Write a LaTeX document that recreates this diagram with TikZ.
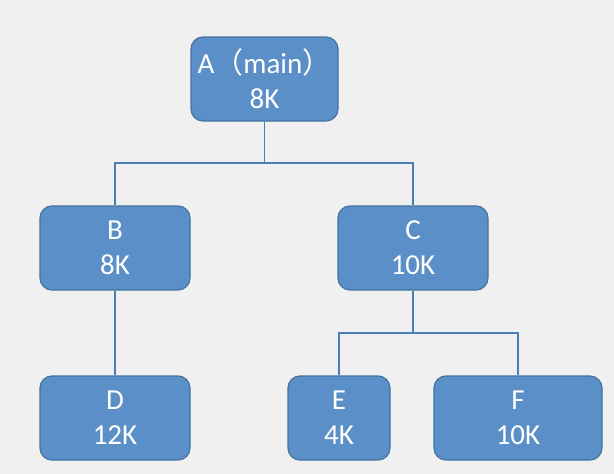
\documentclass[tikz,border=0pt]{standalone}
\usepackage{fontspec}
\setmainfont{Carlito}
\newfontfamily\cjk{Noto Sans CJK SC}
\usepackage{xcolor}
\definecolor{bgcol}{HTML}{F0F0F0}
\definecolor{boxfill}{HTML}{5B8FC7}
\definecolor{boxedge}{HTML}{45739F}
\definecolor{wirecol}{HTML}{4A7EBB}

\begin{document}
\begin{tikzpicture}[x=1pt,y=-1pt,
  blk/.style={draw=boxedge,fill=boxfill,rounded corners=12pt,line width=1.2pt,
    text=white,align=center,inner sep=0pt,minimum height=84pt,
    font=\fontsize{29}{35}\selectfont},
  wire/.style={draw=wirecol,line width=1.5pt}]
\fill[bgcol] (0,0) rectangle (614,474);
% the call tree
\node[blk,minimum width=147pt] (a) at (264.5,79) {A{\cjk（}main{\cjk）}\\8K};
\node[blk,minimum width=150pt] (b) at (115,248) {B\\8K};
\node[blk,minimum width=150pt] (c) at (413,248) {C\\10K};
\node[blk,minimum width=150pt] (d) at (115,418) {D\\12K};
\node[blk,minimum width=102pt] (e) at (339,418) {E\\4K};
\node[blk,minimum width=168pt] (f) at (518,418) {F\\10K};
\coordinate (abc) at (264.5,163);
\coordinate (cef) at (413,333);
\draw[wire] (a.south) -- (abc) -| (b.north);
\draw[wire] (abc) -| (c.north);
\draw[wire] (b.south) -- (d.north);
\draw[wire] (c.south) -- (cef) -| (e.north);
\draw[wire] (cef) -| (f.north);
\end{tikzpicture}
\end{document}
